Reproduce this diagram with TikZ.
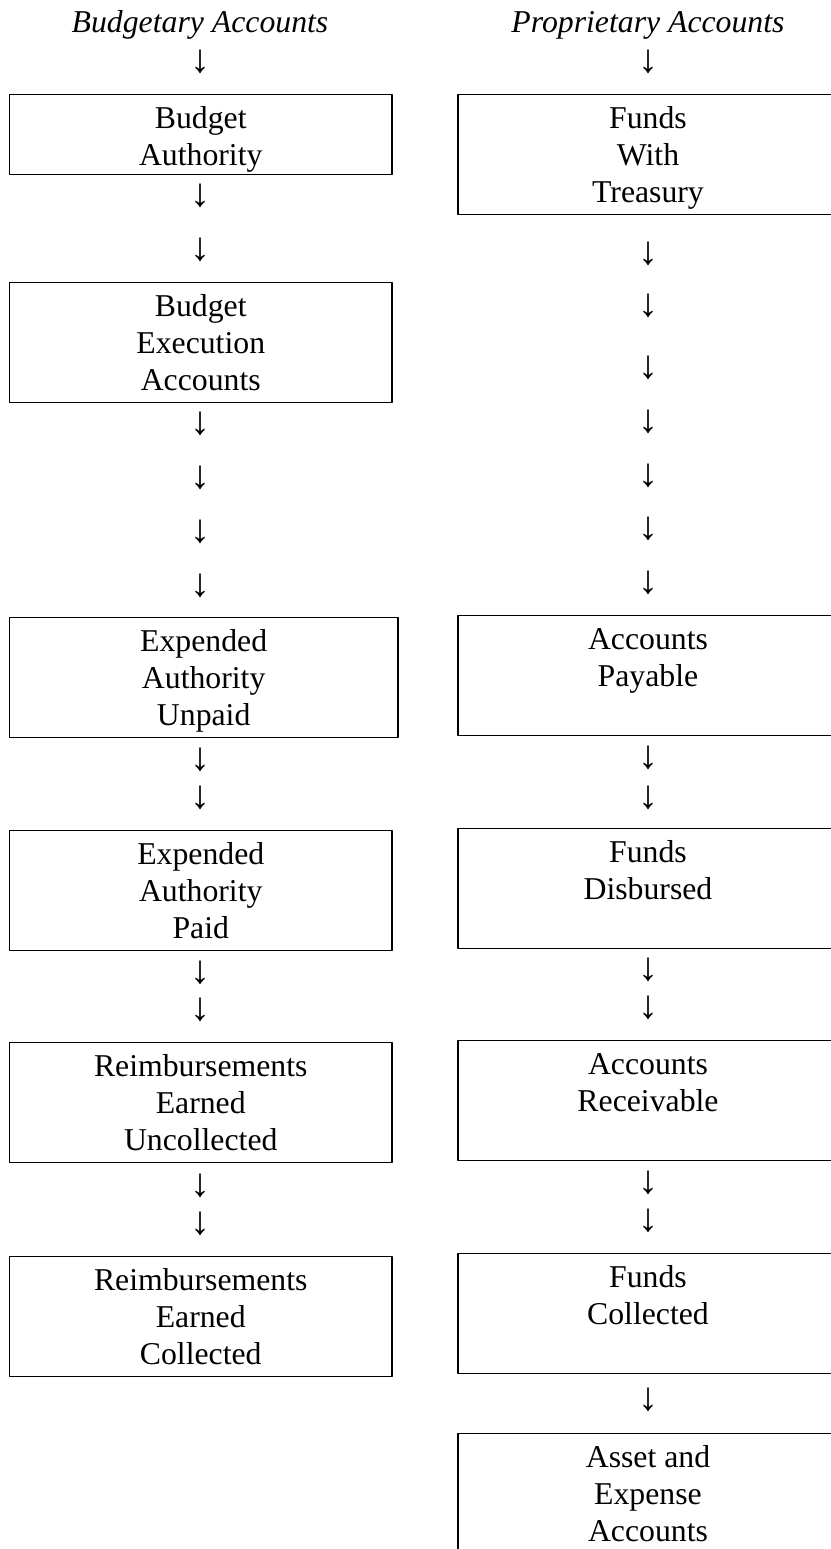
\documentclass[tikz,border=0pt]{standalone}
\usepackage{fontspec}
\setmainfont{Liberation Serif}
\newcommand\topln{\rule{0pt}{13.6pt}}
\newcommand\botln[1][4.8pt]{\rule[-#1]{0pt}{#1}}
\begin{document}
\begin{tikzpicture}[x=0.4pt, y=-0.4pt, font=\fontsize{12.7pt}{14.8pt}\selectfont, line join=round,
	acct/.style={draw, line width=0.55pt, anchor=north, align=center, inner sep=0pt, minimum width=#1*0.4pt},
	acct/.default=382.5,
	dn/.style={inner sep=0pt, font=\fontsize{16pt}{16pt}\selectfont}]
	\useasboundingbox (0,0) rectangle (831,1549);
	\clip (0,0) rectangle (831,1549);
	\node[anchor=base, font=\fontsize{12.7pt}{14.8pt}\selectfont\itshape] (bhead) at (200,32) {Budgetary Accounts};
	\node[anchor=base, font=\fontsize{12.7pt}{14.8pt}\selectfont\itshape] (phead) at (648,32) {Proprietary Accounts};
	% budgetary side
	\node[acct] (bauth) at (200.75,94) {\topln Budget\\Authority\botln[3.6pt]};
	\node[acct] (bexec) at (200.75,282) {\topln Budget\\Execution\\Accounts\botln};
	\node[acct=388.7] (bunpd) at (203.7,617) {\topln Expended\\Authority\\Unpaid\botln};
	\node[acct] (bpaid) at (200.75,830) {\topln Expended\\Authority\\Paid\botln};
	\node[acct] (bruncl) at (200.75,1042) {\topln Reimbursements\\Earned\\Uncollected\botln};
	\node[acct] (brcoll) at (200.75,1256) {\topln Reimbursements\\Earned\\Collected\botln};
	\path (200,62) node[dn] (ba1) {↓};
	\path (200,196) node[dn] (ba2) {↓} (200,250) node[dn] (ba3) {↓};
	\path (200,424) node[dn] (ba4) {↓} (200,478) node[dn] (ba5) {↓} (200,532) node[dn] (ba6) {↓} (200,586) node[dn] (ba7) {↓};
	\path (200,760) node[dn] (ba8) {↓} (200,798) node[dn] (ba9) {↓};
	\path (200,973) node[dn] (ba10) {↓} (200,1010) node[dn] (ba11) {↓};
	\path (200,1186) node[dn] (ba12) {↓} (200,1224) node[dn] (ba13) {↓};
	% proprietary side
	\node[acct=380] (pfwt) at (648,94) {\topln Funds\\With\\Treasury\botln};
	\node[acct=380] (ppay) at (648,615) {\topln Accounts\\Payable\\\botln};
	\node[acct=380] (pdisb) at (648,828) {\topln Funds\\Disbursed\\\botln};
	\node[acct=380] (prec) at (648,1040) {\topln Accounts\\Receivable\\\botln};
	\node[acct=380] (pcoll) at (648,1253) {\topln Funds\\Collected\\\botln};
	\node[acct=380] (passet) at (648,1433) {\topln Asset and\\Expense\\Accounts\botln};
	\path (648,62) node[dn] (pa1) {↓};
	\path (648,254) node[dn] (pa2) {↓} (648,306) node[dn] (pa3) {↓} (648,368) node[dn] (pa4) {↓} (648,422) node[dn] (pa5) {↓};
	\path (648,476) node[dn] (pa6) {↓} (648,529) node[dn] (pa7) {↓} (648,583) node[dn] (pa8) {↓};
	\path (648,758) node[dn] (pa9) {↓} (648,798) node[dn] (pa10) {↓};
	\path (648,970) node[dn] (pa11) {↓} (648,1008) node[dn] (pa12) {↓};
	\path (648,1183) node[dn] (pa13) {↓} (648,1221) node[dn] (pa14) {↓};
	\path (648,1400) node[dn] (pa15) {↓};
\end{tikzpicture}
\end{document}
